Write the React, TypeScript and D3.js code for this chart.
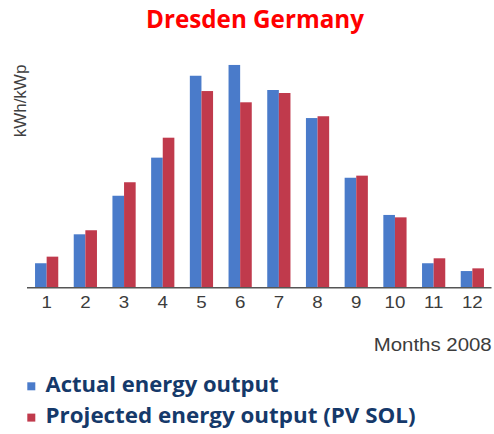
import React from "react";
import * as d3 from "d3";

const months = ["1", "2", "3", "4", "5", "6", "7", "8", "9", "10", "11", "12"];
const actual = [16.3, 35.6, 61.3, 86.7, 141.3, 148.5, 131.8, 113.1, 73.3, 48.5, 16.3, 11.1];
const projected = [20.7, 38.3, 70.3, 100, 131.1, 123.6, 129.8, 114.3, 74.7, 46.9, 19.6, 12.9];
const seriesNames = ["Actual energy output", "Projected energy output (PV SOL)"];
const seriesColors = ["#4a7bca", "#c03a4c"];

const W = 494;
const H = 434;
const baseY = 287.7;

const App = () => {
  const x = d3.scaleBand().domain(months).range([27.3, 491.7]).paddingInner(0.4).paddingOuter(0.2);
  const xSub = d3.scaleBand().domain(["0", "1"]).range([0, x.bandwidth()]);
  const y = d3.scaleLinear().domain([0, 150]).range([baseY, baseY - 225]);
  const series = [actual, projected];

  return (
    <svg width={W} height={H} style={{ position: "absolute", left: 0, top: 0, background: "#fff" }}>
      <text
        x={255}
        y={28.3}
        textAnchor="middle"
        fontFamily="'Open Sans', sans-serif"
        fontWeight="bold"
        fontSize={25.5}
        fill="#ff0000"
        textLength={218}
        lengthAdjust="spacingAndGlyphs"
      >
        Dresden Germany
      </text>

      {series.map((vals, s) =>
        vals.map((v, i) => (
          <rect
            key={`${s}-${i}`}
            x={(x(months[i]) ?? 0) + (xSub(String(s)) ?? 0)}
            y={y(v)}
            width={xSub.bandwidth()}
            height={baseY - y(v)}
            fill={seriesColors[s]}
          />
        ))
      )}

      <line x1={27} x2={491.5} y1={baseY} y2={baseY} stroke="#555" strokeWidth={1.5} />

      {months.map((m) => (
        <text
          key={m}
          transform={`translate(${(x(m) ?? 0) + x.bandwidth() / 2},308.3) scale(1.1,1)`}
          textAnchor="middle"
          fontFamily="'Liberation Sans', Arial, sans-serif"
          fontSize={17}
          fill="#3c3c3c"
        >
          {m}
        </text>
      ))}

      <text
        transform="translate(25.5,101) rotate(-90)"
        textAnchor="middle"
        fontFamily="'Liberation Sans', Arial, sans-serif"
        fontSize={17}
        fill="#404040"
      >
        kWh/kWp
      </text>

      <text
        x={491.7}
        y={351}
        textAnchor="end"
        fontFamily="'Liberation Sans', Arial, sans-serif"
        fontSize={17.5}
        fill="#3c3c3c"
        textLength={118}
        lengthAdjust="spacingAndGlyphs"
      >
        Months 2008
      </text>

      {seriesNames.map((name, s) => (
        <g key={name} transform={`translate(0,${s * 31.3})`}>
          <rect x={27.3} y={382.3} width={8} height={8} fill={seriesColors[s]} />
          <text
            x={45.5}
            y={391.7}
            fontFamily="'Open Sans', sans-serif"
            fontWeight="bold"
            fontSize={21}
            fill="#15396a"
            textLength={s === 0 ? 233 : 370}
            lengthAdjust="spacingAndGlyphs"
          >
            {name}
          </text>
        </g>
      ))}
    </svg>
  );
};

export default App;
